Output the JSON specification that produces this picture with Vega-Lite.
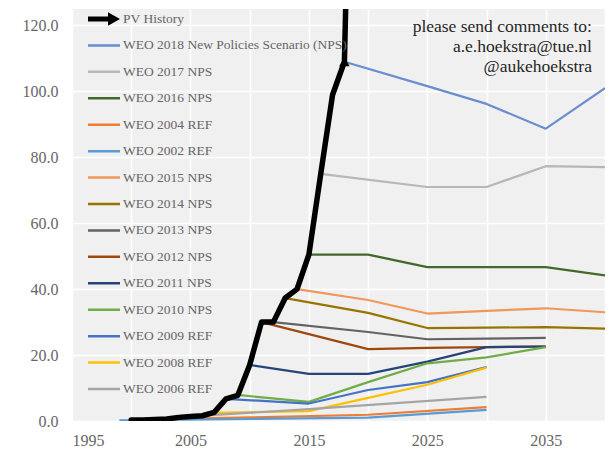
{
  "$schema": "https://vega.github.io/schema/vega-lite/v6.json",
  "width": 533,
  "height": 412,
  "autosize": {"type": "none"},
  "padding": {"left": 72, "top": 9, "right": 10, "bottom": 34},
  "background": "white",
  "config": {
    "view": {"fill": "#f0f0f0", "stroke": null},
    "font": "Liberation Serif"
  },
  "data": {
    "values": [
      {"s": "PV History", "year": 2000, "v": 0.3},
      {"s": "PV History", "year": 2001, "v": 0.33},
      {"s": "PV History", "year": 2002, "v": 0.45},
      {"s": "PV History", "year": 2003, "v": 0.6},
      {"s": "PV History", "year": 2004, "v": 1.1},
      {"s": "PV History", "year": 2005, "v": 1.4},
      {"s": "PV History", "year": 2006, "v": 1.6},
      {"s": "PV History", "year": 2007, "v": 2.6},
      {"s": "PV History", "year": 2008, "v": 6.7},
      {"s": "PV History", "year": 2009, "v": 7.8},
      {"s": "PV History", "year": 2010, "v": 17},
      {"s": "PV History", "year": 2011, "v": 30},
      {"s": "PV History", "year": 2012, "v": 30},
      {"s": "PV History", "year": 2013, "v": 37.3},
      {"s": "PV History", "year": 2014, "v": 40},
      {"s": "PV History", "year": 2015, "v": 50.5},
      {"s": "PV History", "year": 2016, "v": 75},
      {"s": "PV History", "year": 2017, "v": 99},
      {"s": "PV History", "year": 2018, "v": 109},
      {"s": "PV History", "year": 2018.2, "v": 140},

      {"s": "WEO 2018 New Policies Scenario (NPS)", "year": 2018, "v": 109},
      {"s": "WEO 2018 New Policies Scenario (NPS)", "year": 2025, "v": 101.6},
      {"s": "WEO 2018 New Policies Scenario (NPS)", "year": 2030, "v": 96.2},
      {"s": "WEO 2018 New Policies Scenario (NPS)", "year": 2035, "v": 88.7},
      {"s": "WEO 2018 New Policies Scenario (NPS)", "year": 2040, "v": 101},

      {"s": "WEO 2017 NPS", "year": 2016, "v": 75},
      {"s": "WEO 2017 NPS", "year": 2025, "v": 71},
      {"s": "WEO 2017 NPS", "year": 2030, "v": 71},
      {"s": "WEO 2017 NPS", "year": 2035, "v": 77.3},
      {"s": "WEO 2017 NPS", "year": 2040, "v": 77},

      {"s": "WEO 2016 NPS", "year": 2015, "v": 50.5},
      {"s": "WEO 2016 NPS", "year": 2020, "v": 50.5},
      {"s": "WEO 2016 NPS", "year": 2025, "v": 46.7},
      {"s": "WEO 2016 NPS", "year": 2030, "v": 46.7},
      {"s": "WEO 2016 NPS", "year": 2035, "v": 46.7},
      {"s": "WEO 2016 NPS", "year": 2040, "v": 44.2},

      {"s": "WEO 2004 REF", "year": 2002, "v": 0.5},
      {"s": "WEO 2004 REF", "year": 2010, "v": 1.1},
      {"s": "WEO 2004 REF", "year": 2020, "v": 1.9},
      {"s": "WEO 2004 REF", "year": 2030, "v": 4.2},

      {"s": "WEO 2002 REF", "year": 1999, "v": 0.2},
      {"s": "WEO 2002 REF", "year": 2010, "v": 0.6},
      {"s": "WEO 2002 REF", "year": 2020, "v": 1.0},
      {"s": "WEO 2002 REF", "year": 2030, "v": 3.4},

      {"s": "WEO 2015 NPS", "year": 2014, "v": 40},
      {"s": "WEO 2015 NPS", "year": 2020, "v": 36.7},
      {"s": "WEO 2015 NPS", "year": 2025, "v": 32.6},
      {"s": "WEO 2015 NPS", "year": 2030, "v": 33.4},
      {"s": "WEO 2015 NPS", "year": 2035, "v": 34.2},
      {"s": "WEO 2015 NPS", "year": 2040, "v": 33},

      {"s": "WEO 2014 NPS", "year": 2013, "v": 37.3},
      {"s": "WEO 2014 NPS", "year": 2020, "v": 32.8},
      {"s": "WEO 2014 NPS", "year": 2025, "v": 28.2},
      {"s": "WEO 2014 NPS", "year": 2030, "v": 28.3},
      {"s": "WEO 2014 NPS", "year": 2035, "v": 28.5},
      {"s": "WEO 2014 NPS", "year": 2040, "v": 28},

      {"s": "WEO 2013 NPS", "year": 2012, "v": 30},
      {"s": "WEO 2013 NPS", "year": 2020, "v": 27},
      {"s": "WEO 2013 NPS", "year": 2025, "v": 24.8},
      {"s": "WEO 2013 NPS", "year": 2030, "v": 25},
      {"s": "WEO 2013 NPS", "year": 2035, "v": 25.2},

      {"s": "WEO 2012 NPS", "year": 2011, "v": 30},
      {"s": "WEO 2012 NPS", "year": 2020, "v": 21.8},
      {"s": "WEO 2012 NPS", "year": 2025, "v": 22.2},
      {"s": "WEO 2012 NPS", "year": 2030, "v": 22.4},
      {"s": "WEO 2012 NPS", "year": 2035, "v": 22.6},

      {"s": "WEO 2011 NPS", "year": 2010, "v": 17},
      {"s": "WEO 2011 NPS", "year": 2015, "v": 14.3},
      {"s": "WEO 2011 NPS", "year": 2020, "v": 14.3},
      {"s": "WEO 2011 NPS", "year": 2025, "v": 18},
      {"s": "WEO 2011 NPS", "year": 2030, "v": 22.4},
      {"s": "WEO 2011 NPS", "year": 2035, "v": 22.6},

      {"s": "WEO 2010 NPS", "year": 2009, "v": 7.9},
      {"s": "WEO 2010 NPS", "year": 2015, "v": 5.8},
      {"s": "WEO 2010 NPS", "year": 2020, "v": 11.8},
      {"s": "WEO 2010 NPS", "year": 2025, "v": 17.5},
      {"s": "WEO 2010 NPS", "year": 2030, "v": 19.3},
      {"s": "WEO 2010 NPS", "year": 2035, "v": 22.4},

      {"s": "WEO 2009 REF", "year": 2008, "v": 6.7},
      {"s": "WEO 2009 REF", "year": 2015, "v": 5.3},
      {"s": "WEO 2009 REF", "year": 2020, "v": 9.4},
      {"s": "WEO 2009 REF", "year": 2025, "v": 11.8},
      {"s": "WEO 2009 REF", "year": 2030, "v": 16.4},

      {"s": "WEO 2008 REF", "year": 2007, "v": 2.5},
      {"s": "WEO 2008 REF", "year": 2015, "v": 3.0},
      {"s": "WEO 2008 REF", "year": 2020, "v": 7},
      {"s": "WEO 2008 REF", "year": 2025, "v": 11},
      {"s": "WEO 2008 REF", "year": 2030, "v": 16.2},

      {"s": "WEO 2006 REF", "year": 2005, "v": 1.4},
      {"s": "WEO 2006 REF", "year": 2015, "v": 3.6},
      {"s": "WEO 2006 REF", "year": 2030, "v": 7.3}
    ]
  },
  "layer": [
    {
      "transform": [{"filter": "datum.s !== 'PV History'"}],
      "mark": {"type": "line", "strokeWidth": 2.2, "clip": true, "strokeJoin": "round"},
      "encoding": {
        "x": {
          "field": "year", "type": "quantitative",
          "scale": {"domain": [1995, 2040], "nice": false, "zero": false},
          "axis": {
            "title": null,
            "values": [1995, 2000, 2005, 2010, 2015, 2020, 2025, 2030, 2035, 2040],
            "labelExpr": "(datum.value - 1995) % 10 === 0 && datum.value < 2040 ? datum.value + '' : ''",
            "grid": true, "gridColor": "#ffffff", "gridWidth": 1.5,
            "domain": false, "ticks": false,
            "labelFont": "Liberation Serif", "labelFontSize": 16, "labelColor": "#666666",
            "labelPadding": 11
          }
        },
        "y": {
          "field": "v", "type": "quantitative",
          "scale": {"domain": [0, 125], "nice": false},
          "axis": {
            "title": null,
            "values": [0, 5, 10, 15, 20, 25, 30, 35, 40, 45, 50, 55, 60, 65, 70, 75, 80, 85, 90, 95, 100, 105, 110, 115, 120, 125],
            "labelExpr": "datum.value % 20 === 0 ? format(datum.value, '.1f') : ''",
            "grid": true, "gridColor": "#ffffff", "gridWidth": 1.5,
            "domain": false, "ticks": false,
            "labelFont": "Liberation Serif", "labelFontSize": 16, "labelColor": "#666666",
            "labelPadding": 14
          }
        },
        "color": {
          "field": "s", "type": "nominal",
          "scale": {
            "domain": ["PV History", "WEO 2018 New Policies Scenario (NPS)", "WEO 2017 NPS", "WEO 2016 NPS", "WEO 2004 REF", "WEO 2002 REF", "WEO 2015 NPS", "WEO 2014 NPS", "WEO 2013 NPS", "WEO 2012 NPS", "WEO 2011 NPS", "WEO 2010 NPS", "WEO 2009 REF", "WEO 2008 REF", "WEO 2006 REF"],
            "range": ["#000000", "#698ED0", "#B7B7B7", "#43682B", "#ED7D31", "#5B9BD5", "#F1975A", "#997300", "#636363", "#9E480E", "#264478", "#70AD47", "#4472C4", "#FFC000", "#A5A5A5"]
          },
          "legend": {
            "title": null,
            "orient": "none",
            "legendX": 16,
            "legendY": -3,
            "padding": 0,
            "symbolType": "stroke",
            "symbolSize": 1024,
            "symbolStrokeWidth": 2.5,
            "labelFont": "Liberation Serif",
            "labelFontSize": 13.5,
            "labelColor": "#666666",
            "labelOffset": 3,
            "labelLimit": 400,
            "clipHeight": 26,
            "rowPadding": 0.43,
            "encode": {
              "symbols": {
                "update": {
                  "x": {"value": 16},
                  "size": {"value": 1024},
                  "shape": {"signal": "datum.value === 'PV History' ? 'M-1,-0.16L0.25,-0.16L0.25,-0.42L1,0L0.25,0.42L0.25,0.16L-1,0.16Z' : 'stroke'"},
                  "fill": {"signal": "datum.value === 'PV History' ? '#000000' : 'transparent'"},
                  "strokeWidth": {"signal": "datum.value === 'PV History' ? 0 : 2.5"}
                }
              },
              "labels": {
                "update": {
                  "x": {"value": 35}
                }
              }
            }
          }
        },
        "detail": {"field": "s"}
      }
    },
    {
      "transform": [{"filter": "datum.s === 'PV History'"}],
      "mark": {"type": "line", "strokeWidth": 5.5, "clip": true, "strokeJoin": "round", "strokeCap": "round"},
      "encoding": {
        "x": {"field": "year", "type": "quantitative"},
        "y": {"field": "v", "type": "quantitative"},
        "color": {"field": "s", "type": "nominal"}
      }
    },
    {
      "transform": [{"filter": "datum.s === 'PV History' && datum.year === 2018"}],
      "mark": {"type": "point", "shape": "triangle-up", "filled": true, "color": "#000000", "size": 110, "opacity": 1, "clip": true},
      "encoding": {
        "x": {"field": "year", "type": "quantitative"},
        "y": {"field": "v", "type": "quantitative"}
      }
    },
    {
      "data": {"values": [{"note": "please send comments to:\na.e.hoekstra@tue.nl\n@aukehoekstra"}]},
      "mark": {"type": "text", "align": "right", "baseline": "middle", "font": "Liberation Serif", "fontSize": 17.5, "color": "#262626", "lineHeight": 20, "lineBreak": "\n"},
      "encoding": {
        "x": {"datum": 2038.9},
        "y": {"datum": 119.6},
        "text": {"field": "note"}
      }
    }
  ]
}
